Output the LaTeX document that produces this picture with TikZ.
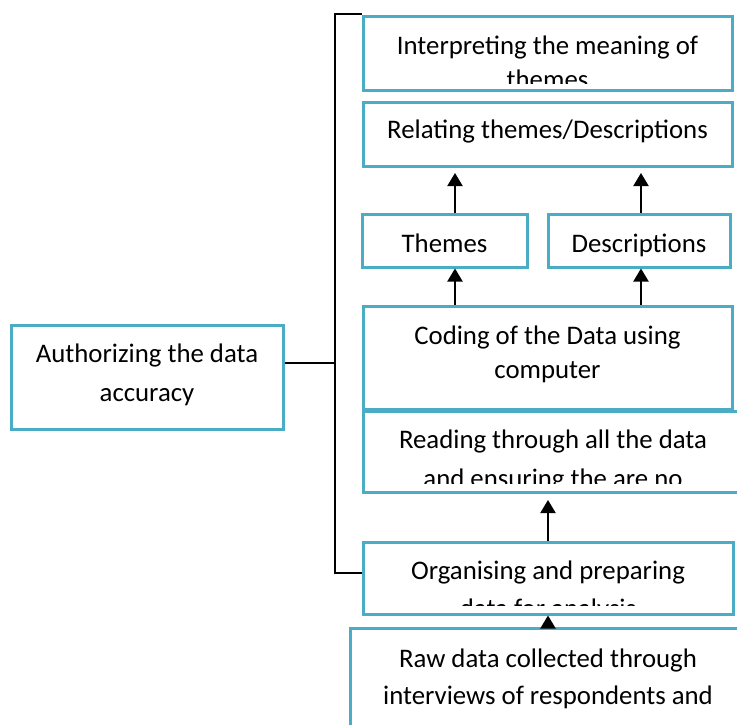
\documentclass[tikz,border=0pt]{standalone}
\usepackage{fontspec}
\setmainfont{Carlito}
\usetikzlibrary{arrows.meta}
\definecolor{aqua}{HTML}{4BACC6}
\begin{document}
\begin{tikzpicture}[x=1pt,y=-1pt,
  box/.style={draw=aqua, line width=3pt, inner sep=0pt},
  lbl/.style={anchor=base, inner sep=0pt, font=\fontsize{26.8}{33}\selectfont, text=black},
  conn/.style={draw=black, line width=1.5pt},
  arr/.style={draw=black, line width=2pt, -{Triangle[width=15pt,length=13pt]}}]
\useasboundingbox (0,0) rectangle (737,724);
\fill[white] (0,0) rectangle (737,724);

% boxes
\node[box, minimum width=369pt, minimum height=74.5pt] (Interp) at (547.5,53.25) {};
\node[box, minimum width=369pt, minimum height=64pt] (Relating) at (547.5,134) {};
\node[box, minimum width=165pt, minimum height=53pt] (Themes) at (444.5,240.5) {};
\node[box, minimum width=182pt, minimum height=53pt] (Desc) at (639,240.5) {};
\node[box, minimum width=369pt, minimum height=103pt] (Coding) at (547.5,357.5) {};
\node[box, minimum width=380pt, minimum height=81pt] (Reading) at (553,451.5) {};
\node[box, minimum width=370pt, minimum height=72pt] (Organ) at (548,578) {};
\node[box, minimum width=396pt, minimum height=132pt] (Raw) at (548,694) {};
\node[box, minimum width=272pt, minimum height=104pt] (Auth) at (147,377) {};

% texts
\begin{scope}
  \clip ([shift={(2,2)}]Interp.north west) rectangle ([shift={(-2,-8.5)}]Interp.south east);
  \node[lbl] (interp1) at (547.5,54) {Interpreting the meaning of};
  \node[lbl] (interp2) at (547.5,88) {themes};
\end{scope}
\node[lbl] (relating1) at (547.5,138) {Relating themes/Descriptions};
\node[lbl] (themes1) at (444.5,252) {Themes};
\node[lbl] (desc1) at (639,252) {Descriptions};
\node[lbl] (coding1) at (547.5,344) {Coding of the Data using};
\node[lbl] (coding2) at (547.5,378) {computer};
\begin{scope}
  \clip ([shift={(2,2)}]Reading.north west) rectangle ([shift={(-2,-10)}]Reading.south east);
  \node[lbl] (reading1) at (553,448) {Reading through all the data};
  \node[lbl] (reading2) at (553,487) {and ensuring the are no};
\end{scope}
\begin{scope}
  \clip ([shift={(2,2)}]Organ.north west) rectangle ([shift={(-2,-10)}]Organ.south east);
  \node[lbl] (organ1) at (548,579) {Organising and preparing};
  \node[lbl] (organ2) at (548,617) {data for analysis};
\end{scope}
\node[lbl] (raw1) at (548,667) {Raw data collected through};
\node[lbl] (raw2) at (548,704) {interviews of respondents and};
\node[lbl] (auth1) at (147,362) {Authorizing the data};
\node[lbl] (auth2) at (147,401) {accuracy};

% arrows
\coordinate (ax1) at (455,0);
\coordinate (ax2) at (641,0);
\coordinate (ax3) at (548,0);
\draw[arr, shorten >=5.5pt] (Themes.north -| ax1) -- (Relating.south -| ax1);
\draw[arr, shorten >=5.5pt] (Desc.north -| ax2) -- (Relating.south -| ax2);
\draw[arr] (Coding.north -| ax1) -- (Themes.south -| ax1);
\draw[arr] (Coding.north -| ax2) -- (Desc.south -| ax2);
\draw[arr, shorten >=6.5pt] (Organ.north -| ax3) -- (Reading.south -| ax3);
\draw[arr] (Raw.north -| ax3) -- (Organ.south -| ax3);

% bracket
\coordinate (bt) at (335,14);
\coordinate (bb) at (335,573);
\coordinate (ay) at (0,363);
\draw[conn] (Interp.west |- bt) -- (bt) -- (bb) -- (Organ.west |- bb);
\draw[conn] (Auth.east |- ay) -- (bt |- ay);
\end{tikzpicture}
\end{document}
